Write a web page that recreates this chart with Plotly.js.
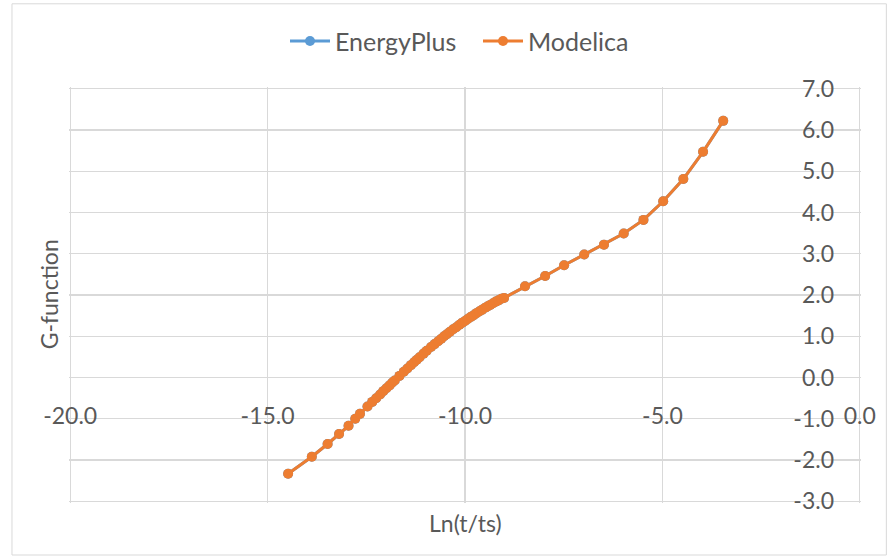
<!DOCTYPE html>
<html>
<head>
<meta charset="utf-8">
<script src="https://cdn.plot.ly/plotly-3.0.1.min.js"></script>
<style>
  html, body { margin: 0; padding: 0; background: #ffffff; }
  #chart { width: 892px; height: 558px; }
</style>
</head>
<body>
<div id="chart"></div>
<script>
// ln(t/ts) values
const lnT = [
  -14.48, -13.88, -13.48, -13.19, -12.95, -12.78, -12.66,
  -12.47, -12.35, -12.25, -12.15, -12.07, -11.99, -11.91, -11.84, -11.78,
  -11.66, -11.55, -11.46, -11.37, -11.29, -11.22, -11.15, -11.05, -10.97,
  -10.86, -10.77, -10.68, -10.60, -10.53, -10.46, -10.38, -10.30, -10.22,
  -10.14, -10.07, -10.00, -9.93, -9.85, -9.78, -9.71, -9.64, -9.57, -9.49,
  -9.43, -9.36, -9.29, -9.22, -9.15, -9.08, -9.01,
  -8.48, -7.97, -7.49, -6.98, -6.48, -5.98, -5.48, -4.98, -4.47, -3.97, -3.46
];
// G-function values (EnergyPlus and Modelica coincide)
const gEnergyPlus = [
  -2.33, -1.92, -1.61, -1.37, -1.17, -1.00, -0.88,
  -0.70, -0.59, -0.50, -0.41, -0.33, -0.26, -0.19, -0.12, -0.07,
  0.04, 0.14, 0.22, 0.30, 0.37, 0.43, 0.49, 0.58, 0.65,
  0.74, 0.81, 0.88, 0.94, 1.00, 1.05, 1.11, 1.17, 1.22,
  1.28, 1.33, 1.37, 1.42, 1.47, 1.51, 1.56, 1.60, 1.64, 1.69,
  1.72, 1.76, 1.80, 1.84, 1.87, 1.91, 1.93,
  2.21, 2.46, 2.72, 2.98, 3.22, 3.49, 3.82, 4.27, 4.81, 5.47, 6.22
];
const gModelica = [
  -2.33, -1.92, -1.61, -1.37, -1.17, -1.00, -0.88,
  -0.70, -0.59, -0.50, -0.41, -0.33, -0.26, -0.19, -0.12, -0.07,
  0.04, 0.14, 0.22, 0.30, 0.37, 0.43, 0.49, 0.58, 0.65,
  0.74, 0.81, 0.88, 0.94, 1.00, 1.05, 1.11, 1.17, 1.22,
  1.28, 1.33, 1.37, 1.42, 1.47, 1.51, 1.56, 1.60, 1.64, 1.69,
  1.72, 1.76, 1.80, 1.84, 1.87, 1.91, 1.93,
  2.21, 2.46, 2.72, 2.98, 3.22, 3.49, 3.82, 4.27, 4.81, 5.47, 6.22
];
const xTickVals = [-20, -15, -10, -5, 0];
const xTickText = ['-20.0', '-15.0', '-10.0', '-5.0', '0.0'];
const yTickVals = [-3, -2, -1, 0, 1, 2, 3, 4, 5, 6, 7];
const yTickText = ['-3.0', '-2.0', '-1.0', '0.0', '1.0', '2.0', '3.0', '4.0', '5.0', '6.0', '7.0'];

const FONT = 'Lato, "Open Sans", sans-serif';
const TXT = '#595959';
const GRID = '#d9d9d9';
const FS = 23;

const traces = [
  {
    x: lnT, y: gEnergyPlus, name: 'EnergyPlus', type: 'scatter', mode: 'lines+markers',
    line: { color: '#5B9BD5', width: 3 },
    marker: { color: '#5B9BD5', size: 10 }
  },
  {
    x: lnT, y: gModelica, name: 'Modelica', type: 'scatter', mode: 'lines+markers',
    line: { color: '#ED7D31', width: 3 },
    marker: { color: '#ED7D31', size: 10 }
  }
];

const layout = {
  width: 892, height: 558,
  margin: { l: 69, r: 31, t: 87, b: 55 },
  paper_bgcolor: '#ffffff', plot_bgcolor: '#ffffff',
  font: { family: FONT, size: FS, color: TXT },
  showlegend: true,
  legend: {
    orientation: 'h', x: (285 - 69) / 792, xanchor: 'left', y: 1.11, yanchor: 'middle',
    font: { family: FONT, size: 25, color: TXT }, itemwidth: 40,
    entrywidth: 138, entrywidthmode: 'pixels'
  },
  hovermode: false,
  xaxis: {
    range: [-20.03, 0.03], anchor: 'free', position: 0.2976,
    tickvals: xTickVals, ticktext: xTickText, ticks: '', ticklabelstandoff: 21,
    ticklabeloverflow: 'allow',
    showgrid: true, gridcolor: GRID, gridwidth: 1.3,
    zeroline: true, zerolinecolor: GRID, zerolinewidth: 1.3,
    showline: false, tickfont: { family: FONT, size: FS, color: TXT }
  },
  yaxis: {
    range: [-3.04, 7.04], side: 'right', ticklabelposition: 'inside',
    tickvals: yTickVals, ticktext: yTickText, ticks: '', ticklabelstandoff: 24,
    ticklabeloverflow: 'allow',
    showgrid: true, gridcolor: GRID, gridwidth: 1.3,
    zeroline: true, zerolinecolor: GRID, zerolinewidth: 1.3,
    showline: false, tickfont: { family: FONT, size: FS, color: TXT }
  },
  annotations: [
    { text: 'Ln(t/ts)', xref: 'paper', yref: 'paper', x: 0.5, y: -0.01, xanchor: 'center', yanchor: 'top',
      showarrow: false, font: { family: FONT, size: FS, color: TXT } },
    { text: 'G-function', xref: 'paper', yref: 'paper', x: -0.025, y: 0.502, xanchor: 'center', yanchor: 'middle',
      textangle: -90, showarrow: false, font: { family: FONT, size: FS, color: TXT } }
  ],
  shapes: [
    { type: 'rect', xref: 'paper', yref: 'paper', x0: -0.072, x1: 1.032, y0: -0.125, y1: 1.2,
      line: { color: GRID, width: 1 }, fillcolor: 'rgba(0,0,0,0)', layer: 'below' }
  ]
};

Plotly.newPlot('chart', traces, layout, { staticPlot: true, displayModeBar: false });
</script>
</body>
</html>
